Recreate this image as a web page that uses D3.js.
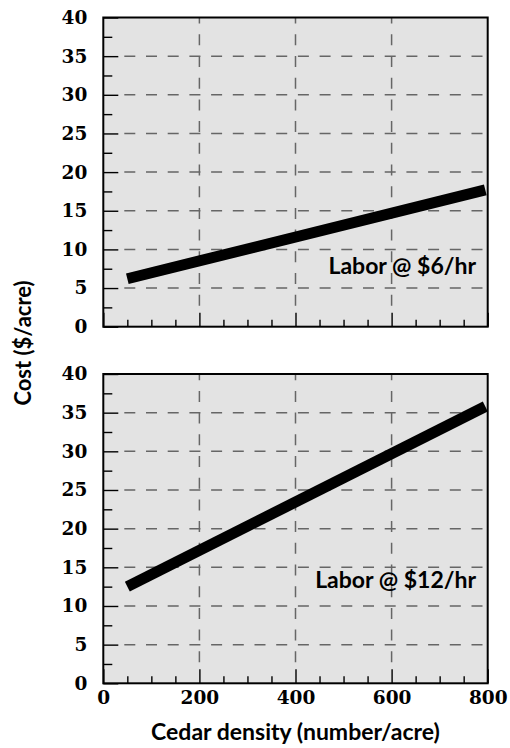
<!DOCTYPE html>
<html>
<head>
<meta charset="utf-8">
<script src="https://cdn.jsdelivr.net/npm/d3@7"></script>
<style>
  body { margin: 0; background: #fff; }
</style>
</head>
<body>
<div id="chart"></div>
<script>
// data
var density = [50, 795];
var cost6 = [6.2, 17.7];
var cost12 = [12.5, 35.8];
var xMajor = [0, 200, 400, 600, 800];
var xMinor = [50, 100, 150, 250, 300, 350, 450, 500, 550, 650, 700, 750];
var yMajor = [0, 5, 10, 15, 20, 25, 30, 35, 40];
var yMinor = [2.5, 7.5, 12.5, 17.5, 22.5, 27.5, 32.5, 37.5];
var labels = ["Labor @ $6/hr", "Labor @ $12/hr"];

var width = 510, height = 748;
var left = 103.3, right = 487.7;

var svg = d3.select("#chart")
  .append("svg")
    .attr("width", width)
    .attr("height", height);

var x = d3.scaleLinear().domain([0, 800]).range([left, right]);

var panels = [
  {top: 17.5, bottom: 326.7, values: cost6, label: labels[0], labelY: 274, showX: false},
  {top: 374, bottom: 683.3, values: cost12, label: labels[1], labelY: 588, showX: true}
];

var numFont = "'DejaVu Serif', serif";
var textFont = "Lato, 'Open Sans', sans-serif";

panels.forEach(function(p) {
  var y = d3.scaleLinear().domain([0, 40]).range([p.bottom, p.top]);
  var g = svg.append("g");

  // background
  g.append("rect")
    .attr("x", left).attr("y", p.top)
    .attr("width", right - left).attr("height", p.bottom - p.top)
    .attr("fill", "#e3e3e3");

  // dashed grid
  g.selectAll(".hgrid")
    .data(yMajor.filter(function(d) { return d > 0 && d < 40; }))
    .enter().append("line")
      .attr("x1", left + 21).attr("x2", right)
      .attr("y1", function(d) { return y(d); })
      .attr("y2", function(d) { return y(d); })
      .attr("stroke", "#666")
      .attr("stroke-width", 1.5)
      .attr("stroke-dasharray", "11,10.7");

  g.selectAll(".vgrid")
    .data(xMajor.filter(function(d) { return d > 0 && d < 800; }))
    .enter().append("line")
      .attr("x1", function(d) { return x(d); })
      .attr("x2", function(d) { return x(d); })
      .attr("y1", p.bottom - 21).attr("y2", p.top)
      .attr("stroke", "#666")
      .attr("stroke-width", 1.5)
      .attr("stroke-dasharray", "11,10.7");

  // inward ticks
  var yAxisMinor = d3.axisLeft(y).tickValues(yMinor).tickSize(-9).tickFormat("");
  var yAxisMajor = d3.axisLeft(y).tickValues(yMajor).tickSize(-15).tickPadding(16);
  var xAxisMinor = d3.axisBottom(x).tickValues(xMinor).tickSize(-7).tickFormat("");
  var xAxisMajor = d3.axisBottom(x).tickValues(xMajor).tickSize(-14).tickPadding(8);
  if (!p.showX) xAxisMajor.tickFormat("");

  var axes = [
    g.append("g").attr("transform", "translate(" + left + ",0)").call(yAxisMinor),
    g.append("g").attr("transform", "translate(" + left + ",0)").call(yAxisMajor),
    g.append("g").attr("transform", "translate(0," + p.bottom + ")").call(xAxisMinor),
    g.append("g").attr("transform", "translate(0," + p.bottom + ")").call(xAxisMajor)
  ];
  axes.forEach(function(a) {
    a.select(".domain").remove();
    a.selectAll("line").attr("stroke", "#000").attr("stroke-width", 1.4);
    a.selectAll("text")
      .attr("fill", "#000")
      .style("font-family", numFont)
      .style("font-weight", "bold")
      .style("font-size", "18.5px");
  });

  // frame
  g.append("rect")
    .attr("x", left).attr("y", p.top)
    .attr("width", right - left).attr("height", p.bottom - p.top)
    .attr("fill", "none")
    .attr("stroke", "#000")
    .attr("stroke-width", 2);

  // cost line
  var line = d3.line()
    .x(function(d, i) { return x(density[i]); })
    .y(function(d) { return y(d); });

  g.append("path")
    .datum(p.values)
    .attr("d", line)
    .attr("fill", "none")
    .attr("stroke", "#000")
    .attr("stroke-width", 11)
    .attr("stroke-linecap", "butt");

  g.append("text")
    .attr("x", 476).attr("y", p.labelY)
    .attr("text-anchor", "end")
    .style("font-family", textFont)
    .style("font-weight", "bold")
    .style("font-size", "23px")
    .text(p.label);
});

// axis titles
svg.append("text")
  .attr("x", (left + right) / 2).attr("y", 740)
  .attr("text-anchor", "middle")
  .style("font-family", textFont)
  .style("font-weight", "bold")
  .style("font-size", "23px")
  .text("Cedar density (number/acre)");

svg.append("text")
  .attr("transform", "translate(31,343) rotate(-90)")
  .attr("text-anchor", "middle")
  .style("font-family", textFont)
  .style("font-weight", "bold")
  .style("font-size", "22px")
  .text("Cost ($/acre)");
</script>
</body>
</html>
